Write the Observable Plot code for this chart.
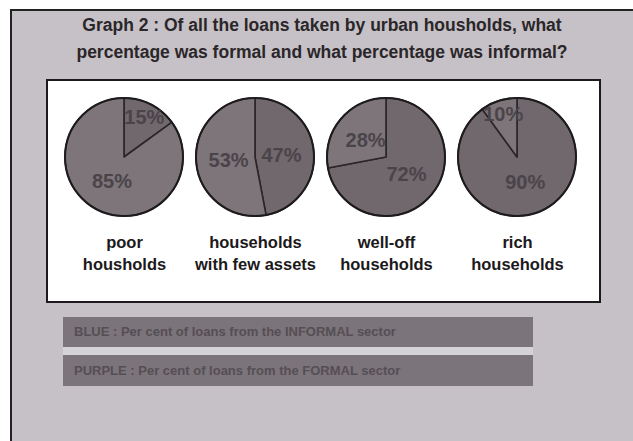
<!DOCTYPE html>
<html>
<head>
<meta charset="utf-8">
<script src="https://cdn.jsdelivr.net/npm/d3@7"></script>
<script src="https://cdn.jsdelivr.net/npm/@observablehq/plot@0.6"></script>
<style>
  html, body { margin: 0; padding: 0; background: #ffffff; }
  body { width: 633px; height: 441px; overflow: hidden; position: relative; font-family: "Liberation Sans", Arial, sans-serif; }
  #panel { position: absolute; left: 10px; top: 9px; width: 640px; height: 450px; background: #c5c1c6; border-left: 2px solid #222; border-top: 2px solid #222; }
  #title { position: absolute; left: 10px; width: 624px; top: 12px; text-align: center; font-weight: bold; font-size: 17.5px; line-height: 27px; color: #2b2629; white-space: nowrap; }
  #box { position: absolute; left: 46px; top: 79px; width: 555px; height: 224px; box-sizing: border-box; border: 2px solid #1c1a1c; background: #fff; }
  #box svg { display: block; }
  .bar { position: absolute; left: 63px; width: 470px; background: #7b747a; color: #554e55; font-weight: bold; font-size: 13px; box-sizing: border-box; padding-left: 11px; }
  #bar1 { top: 317px; height: 30px; line-height: 30px; }
  #bar2 { top: 355px; height: 31px; line-height: 31px; }
  #strip { position: absolute; left: 63px; width: 470px; top: 347px; height: 8px; background: #d6d3d7; }
</style>
</head>
<body>
<div id="panel"></div>
<div id="title"></div>
<div id="box"></div>
<div id="strip"></div>
<div class="bar" id="bar1"></div>
<div class="bar" id="bar2"></div>
<script>
// ---- data ----
const titleLines = [
  "Graph 2 : Of all the loans taken by urban housholds, what",
  "percentage was formal and what percentage was informal?"
];
const groups = ["poor", "few assets", "well-off", "rich"];
const labelLine1 = ["poor", "households", "well-off", "rich"];
const labelLine2 = ["housholds", "with few assets", "households", "households"];
const formalPct = [15, 47, 72, 90];
const informalPct = [85, 53, 28, 10];
const legendTexts = [
  "BLUE : Per cent of loans from the INFORMAL sector",
  "PURPLE : Per cent of loans from the FORMAL sector"
];

// ---- page text ----
document.getElementById("title").innerHTML = titleLines.join("<br>");
document.getElementById("bar1").textContent = legendTexts[0];
document.getElementById("bar2").textContent = legendTexts[1];

// ---- chart ----
const rows = groups.map((g, i) => ({
  group: g,
  label: labelLine1[i] + "\n" + labelLine2[i],
  formal: formalPct[i],
  informal: informalPct[i]
}));

const R = 59;
const formalColor = "#70686d";
const informalColor = "#7d757a";

function pieRender(index, scales, values, dims) {
  const cy = (dims.marginTop + dims.height - dims.marginBottom) / 2;
  const g = d3.create("svg:g");
  const arc = d3.arc().innerRadius(0).outerRadius(R);
  for (const i of index) {
    const d = rows[i];
    const cx = values.x[i];
    const total = d.formal + d.informal;
    const a = d.formal / total * 2 * Math.PI;
    const slices = [
      {start: 0, end: a, fill: formalColor, pct: d.formal},
      {start: a, end: 2 * Math.PI, fill: informalColor, pct: d.informal}
    ];
    const pg = g.append("g").attr("transform", `translate(${cx},${cy})`);
    for (const s of slices) {
      pg.append("path")
        .attr("d", arc({startAngle: s.start, endAngle: s.end}))
        .attr("fill", s.fill)
        .attr("stroke", "#2a2628")
        .attr("stroke-width", 1.6)
        .attr("stroke-linejoin", "round");
    }
    pg.append("circle").attr("r", R).attr("fill", "none")
      .attr("stroke", "#1e1b1d").attr("stroke-width", 2);
    for (const s of slices) {
      const mid = (s.start + s.end) / 2;
      const rr = (s.pct / total < 0.2 ? 0.76 : 0.45) * R;
      pg.append("text")
        .attr("x", Math.sin(mid) * rr)
        .attr("y", -Math.cos(mid) * rr)
        .attr("text-anchor", "middle")
        .attr("dominant-baseline", "central")
        .attr("font-family", "Liberation Sans, Arial, sans-serif")
        .attr("font-weight", "bold")
        .attr("font-size", 20)
        .attr("fill", "#4a4449")
        .text(s.pct + "%");
    }
  }
  return g.node();
}

const chart = Plot.plot({
  width: 551,
  height: 220,
  marginTop: 0,
  marginBottom: 68,
  marginLeft: 0,
  marginRight: 0,
  style: {background: "transparent", overflow: "visible"},
  x: {type: "point", domain: groups, range: [76, 469], padding: 0, axis: null},
  marks: [
    Plot.dot(rows, {x: "group", r: R, render: pieRender}),
    Plot.text(rows, {
      x: "group",
      text: "label",
      frameAnchor: "bottom",
      dy: 18,
      lineAnchor: "middle",
      lineHeight: 1.35,
      fontSize: 16.5,
      fontWeight: "bold",
      fontFamily: "Liberation Sans, Arial, sans-serif",
      fill: "#1c191b"
    })
  ]
});
document.getElementById("box").appendChild(chart);
</script>
</body>
</html>
